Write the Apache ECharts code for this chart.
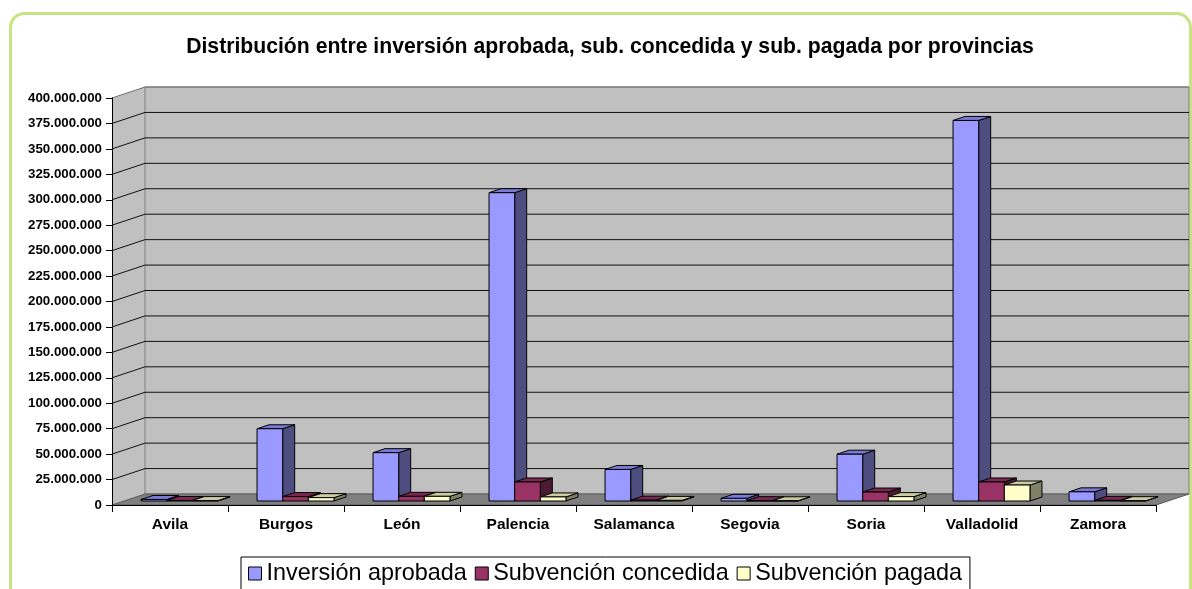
<!DOCTYPE html>
<html>
<head>
<meta charset="utf-8">
<title>Distribución por provincias</title>
<script src="https://cdn.jsdelivr.net/npm/echarts@6/dist/echarts.min.js"></script>
<style>
  html, body { margin: 0; padding: 0; background: #fff; }
  #chart { width: 1192px; height: 589px; }
</style>
</head>
<body>
<div id="chart"></div>
<script>
// Provinces and amounts (euros)
const categories = ['Avila', 'Burgos', 'León', 'Palencia', 'Salamanca', 'Segovia', 'Soria', 'Valladolid', 'Zamora'];
const inversionAprobada   = [1500000, 71000000, 47500000, 303000000, 31000000, 2600000, 46000000, 374000000, 9000000];
const subvencionConcedida = [500000, 4300000, 4600000, 18700000, 800000, 300000, 8800000, 18700000, 600000];
const subvencionPagada    = [400000, 3300000, 4600000, 4000000, 600000, 200000, 4300000, 15700000, 300000];
const seriesNames = ['Inversión aprobada', 'Subvención concedida', 'Subvención pagada'];
const yMax = 400000000;
const yStep = 25000000;

const FONT = '"Liberation Sans", Arial, sans-serif';

// face colours for the pseudo-3D columns
const FACES = [
  { front: '#9999FF', top: '#7A7AD6', side: '#4D4D80' },
  { front: '#993366', top: '#7A2952', side: '#4D1A33' },
  { front: '#FFFFCC', top: '#CCCCA3', side: '#808066' }
];

// depth of the floor / walls and of the columns (screen offsets)
const WALL_DX = 33, WALL_DY = -11;
const BAR_FRONT_DY = -4;
const BAR_DX = 12, BAR_DY = -4;
const BAR_FRAC = 0.221;
const GROUP_SHIFT = 9.5;

function thousands(v) {
  return String(v).replace(/\B(?=(\d{3})+(?!\d))/g, '.');
}

function renderWalls(params, api) {
  const band = api.size([1, 0])[0];
  const x0 = api.coord([0, 0])[0] - band / 2;
  const x1 = api.coord([categories.length - 1, 0])[0] + band / 2;
  const y0 = api.coord([0, 0])[1];
  const yT = api.coord([0, yMax])[1];
  const children = [];
  // side wall
  children.push({ type: 'polygon', shape: { points: [[x0, yT], [x0 + WALL_DX, yT + WALL_DY], [x0 + WALL_DX, y0 + WALL_DY], [x0, y0]] },
    style: { fill: '#C0C0C0', stroke: null } });
  // back wall
  children.push({ type: 'rect', shape: { x: x0 + WALL_DX, y: yT + WALL_DY, width: x1 - x0, height: y0 - yT },
    style: { fill: '#C0C0C0', stroke: '#808080', lineWidth: 1 } });
  // floor
  children.push({ type: 'polygon', shape: { points: [[x0, y0], [x0 + WALL_DX, y0 + WALL_DY], [x1 + WALL_DX, y0 + WALL_DY], [x1, y0]] },
    style: { fill: '#808080', stroke: '#5a5a5a', lineWidth: 1 } });
  // grid lines running along the side wall and across the back wall
  for (let t = yStep; t <= yMax; t += yStep) {
    const y = api.coord([0, t])[1];
    const last = t === yMax;
    children.push({ type: 'polyline', shape: { points: [[x0, y], [x0 + WALL_DX, y + WALL_DY], [x1 + WALL_DX, y + WALL_DY]] },
      style: { stroke: last ? '#707070' : '#111', lineWidth: 1, fill: null } });
  }
  return { type: 'group', children: children };
}

function renderColumns(s) {
  return function (params, api) {
    const i = api.value(0);
    const v = api.value(1);
    const base = api.coord([i, 0]);
    const top = api.coord([i, v]);
    const band = api.size([1, 0])[0];
    const w = band * BAR_FRAC;
    const left = base[0] + GROUP_SHIFT - 1.5 * w + s * w;
    const yb = base[1] + BAR_FRONT_DY;
    const yt = top[1] + BAR_FRONT_DY;
    const f = FACES[s];
    const edge = { stroke: '#000', lineWidth: 1 };
    return {
      type: 'group',
      children: [
        { type: 'polygon', shape: { points: [[left + w, yb], [left + w, yt], [left + w + BAR_DX, yt + BAR_DY], [left + w + BAR_DX, yb + BAR_DY]] },
          style: Object.assign({ fill: f.side }, edge) },
        { type: 'polygon', shape: { points: [[left, yt], [left + w, yt], [left + w + BAR_DX, yt + BAR_DY], [left + BAR_DX, yt + BAR_DY]] },
          style: Object.assign({ fill: f.top }, edge) },
        { type: 'rect', shape: { x: left, y: yt, width: w, height: yb - yt },
          style: Object.assign({ fill: f.front }, edge) }
      ]
    };
  };
}

const valueSets = [inversionAprobada, subvencionConcedida, subvencionPagada];

const chart = echarts.init(document.getElementById('chart'), null, { renderer: 'canvas' });
chart.setOption({
  animation: false,
  backgroundColor: '#fff',
  textStyle: { fontFamily: FONT },
  title: {
    text: 'Distribución entre inversión aprobada, sub. concedida y sub. pagada por provincias',
    left: 605,
    textAlign: 'center',
    top: 32,
    textStyle: { fontFamily: FONT, fontSize: 21.2, fontWeight: 'bold', color: '#000' }
  },
  graphic: [{
    type: 'rect',
    shape: { x: 10.5, y: 13.5, width: 1180, height: 640, r: 14 },
    style: { fill: null, stroke: '#C8E484', lineWidth: 3 },
    silent: true,
    z: -1
  }],
  legend: {
    data: seriesNames,
    left: 241,
    top: 557,
    padding: [5, 8, 14, 7],
    itemGap: 8,
    itemWidth: 13,
    itemHeight: 13,
    icon: 'rect',
    itemStyle: { borderColor: '#000', borderWidth: 1 },
    backgroundColor: '#fff',
    borderColor: '#000',
    borderWidth: 1,
    borderRadius: 0,
    textStyle: { fontFamily: FONT, fontSize: 23.4, color: '#000' }
  },
  grid: { left: 112, right: 36, top: 98, bottom: 84, containLabel: false },
  xAxis: {
    type: 'category',
    data: categories,
    z: 10,
    axisLine: { show: true, lineStyle: { color: '#000', width: 1 } },
    axisTick: { show: true, length: 7, interval: 0, alignWithLabel: false, lineStyle: { color: '#000' } },
    axisLabel: { interval: 0, margin: 12, fontFamily: FONT, fontSize: 15.5, fontWeight: 'bold', color: '#000' },
    splitLine: { show: false }
  },
  yAxis: {
    type: 'value',
    min: 0,
    max: yMax,
    interval: yStep,
    z: 10,
    axisLine: { show: true, lineStyle: { color: '#000', width: 1 } },
    axisTick: { show: true, length: 6, lineStyle: { color: '#000' } },
    axisLabel: { margin: 10, fontFamily: FONT, fontSize: 13.3, fontWeight: 'bold', color: '#000', formatter: thousands },
    splitLine: { show: false }
  },
  series: [
    {
      type: 'custom',
      name: 'walls',
      silent: true,
      z: 1,
      renderItem: renderWalls,
      data: [[0, 0]],
      encode: { x: 0, y: 1 }
    }
  ].concat(valueSets.map(function (vals, s) {
    return {
      type: 'custom',
      name: seriesNames[s],
      z: 3,
      itemStyle: { color: FACES[s].front },
      renderItem: renderColumns(s),
      data: vals.map(function (v, i) { return [i, v]; }),
      encode: { x: 0, y: 1 }
    };
  }))
});
</script>
</body>
</html>
